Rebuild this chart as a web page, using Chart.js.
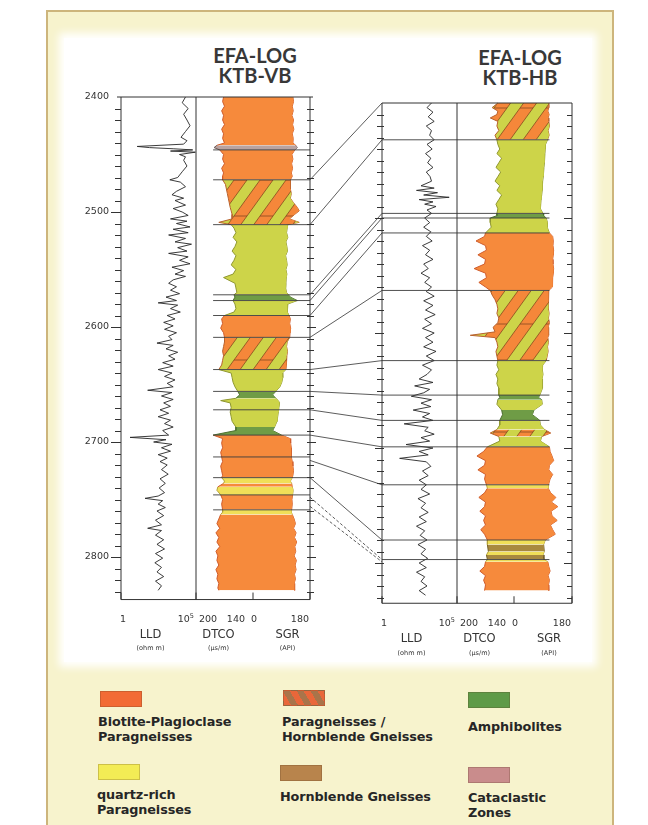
<!DOCTYPE html>
<html>
<head>
<meta charset="utf-8">
<title>EFA-LOG KTB-VB / KTB-HB</title>
<script src="https://cdn.jsdelivr.net/npm/chart.js@4.4.1/dist/chart.umd.min.js"></script>
<style>
  html, body { margin: 0; padding: 0; background: #fff; }
  #page { position: relative; width: 648px; height: 825px; overflow: hidden; background: #fff;
          font-family: "DejaVu Sans", sans-serif; }
  #board { position: absolute; left: 46px; top: 10px; width: 568px; height: 830px;
           background: #f7f3cd; border: 2px solid #cdb57c; box-sizing: border-box; }
  #sheet { position: absolute; left: 64px; top: 38px; width: 528px; height: 624px;
           background: #fff; box-shadow: 0 0 8px 5px #fff; }
  .title { position: absolute; width: 130px; text-align: center; font-family: Lato, sans-serif;
           font-weight: 700; font-size: 20px; line-height: 20px; color: #383838; }
  .sw { position: absolute; width: 42px; height: 16px; box-sizing: border-box;
        border: 1px solid rgba(90,60,30,0.25); }
  .lt { position: absolute; font-weight: 700; font-size: 12.8px; line-height: 15px;
        color: #262626; white-space: nowrap; letter-spacing: -0.1px; }
  #logs { position: absolute; left: 0; top: 0; }
</style>
</head>
<body>
<div id="page">
  <div id="board"></div>
  <div id="sheet"></div>

  <div class="title" style="left:190px; top:45px;">EFA-LOG<br>KTB-VB</div>
  <div class="title" style="left:455px; top:47px;">EFA-LOG<br>KTB-HB</div>

  <div class="sw" style="left:100px; top:691px; background:#f26b35;"></div>
  <div class="lt" style="left:98px; top:714px;">Biotite-Plagioclase<br>Paragneisses</div>

  <div class="sw" style="left:283px; top:690px; background:repeating-linear-gradient(60deg,#e9673a 0 6px,#a9744a 6px 12px);"></div>
  <div class="lt" style="left:282px; top:714px;">Paragneisses /<br>Hornblende Gneisses</div>

  <div class="sw" style="left:468px; top:692px; background:#5f9a48;"></div>
  <div class="lt" style="left:468px; top:719px;">Amphibolites</div>

  <div class="sw" style="left:98px; top:764px; background:#f3ec55;"></div>
  <div class="lt" style="left:97px; top:787px;">quartz-rich<br>Paragneisses</div>

  <div class="sw" style="left:280px; top:765px; background:#b8844c;"></div>
  <div class="lt" style="left:280px; top:789px;">Hornblende Gneisses</div>

  <div class="sw" style="left:468px; top:767px; background:#c98c8c;"></div>
  <div class="lt" style="left:468px; top:790px;">Cataclastic<br>Zones</div>

  <canvas id="logs" width="648" height="825"></canvas>
</div>

<script>
// ---------------------------------------------------------------
// Log data, KTB-VB (pilot hole)
// ---------------------------------------------------------------
const vbLldDepth = [
  2400,2405,2410,2415,2420,2425,2430,2435,2438,2441,
  2443,2444,2445,2446,2447,2448,2450,2452,2455,2460,
  2465,2470,2472,2474,2478,2482,2485,2488,2490,2494,
  2497,2500,2503,2506,2508,2510,2513,2515,2518,2520,
  2523,2526,2528,2531,2534,2536,2539,2542,2545,2548,
  2551,2554,2556,2559,2562,2565,2568,2571,2574,2577,
  2579,2581,2584,2587,2590,2593,2596,2599,2602,2605,
  2608,2611,2614,2616,2619,2622,2625,2628,2631,2634,
  2637,2640,2643,2646,2649,2652,2655,2657,2660,2663,
  2666,2669,2672,2675,2678,2681,2684,2687,2690,2694,
  2696,2698,2700,2702,2705,2708,2711,2714,2717,2720,
  2724,2728,2732,2736,2740,2744,2747,2749,2751,2754,
  2757,2760,2764,2768,2772,2775,2777,2781,2785,2789,
  2793,2797,2801,2805,2809,2813,2817,2821,2825,2829
];
const vbLld = [ // ohm m
  20000,12000,30000,15000,25000,40000,20000,10000,25000,15000,
  12,80,3000,60000,2000,90000,8000,20000,15000,25000,
  12000,6000,1800,9000,20000,5000,2500,15000,4000,20000,
  3000,12000,30000,2000,25000,5000,40000,3000,30000,1500,
  20000,4000,50000,6000,25000,1500,30000,8000,40000,2500,
  15000,4000,20000,3000,1500,5000,2000,8000,1000,5000,
  300,6000,2000,9000,1200,4000,700,3000,800,5000,
  1500,2500,250,3000,1000,6000,1500,4000,600,3000,
  300,2500,800,4000,1200,3000,60,2500,500,3000,
  700,2000,400,1500,300,2000,800,3000,600,1500,
  4,1000,150,2500,500,2000,300,1200,400,1200,
  500,1400,400,900,350,800,300,40,600,300,
  900,250,700,200,500,60,500,200,700,250,
  800,200,600,180,500,250,700,200,500,300
];

const vbLogDepth = [
  2400,2404,2408,2412,2416,2420,2424,2428,2432,2436,
  2440,2442,2444,2446,2450,2454,2458,2462,2466,2469,
  2472,2476,2480,2484,2488,2492,2496,2499,2502,2506,
  2509,2511,2514,2518,2522,2526,2530,2534,2538,2542,
  2546,2550,2554,2557,2562,2566,2570,2572,2574,2577,
  2580,2584,2587,2590,2593,2597,2601,2605,2609,2613,
  2617,2621,2625,2629,2633,2637,2640,2644,2648,2652,
  2656,2659,2662,2664,2666,2670,2674,2678,2682,2687,
  2690,2694,2697,2701,2705,2709,2713,2717,2721,2725,
  2729,2731,2734,2736,2739,2742,2746,2750,2754,2759,
  2761,2763,2767,2771,2775,2779,2783,2787,2791,2795,
  2799,2803,2807,2811,2815,2819,2823,2827,2829
];
const vbDtco = [ // µs/m
  171,172,170,173,171,172,170,173,171,172,
  170,178,181,175,171,172,170,173,171,172,
  172,169,168,167,166,165,164,163,162,162,
  176,163,160,158,161,157,159,162,158,160,
  163,158,161,171,159,158,157,160,159,161,
  159,158,160,170,173,172,174,171,170,170,
  171,172,171,172,173,176,163,162,161,159,
  156,154,158,174,164,163,164,163,162,158,
  158,182,172,173,172,174,173,172,174,173,
  172,173,170,171,177,178,174,172,173,172,
  172,174,176,178,175,179,176,178,175,179,
  177,178,176,179,177,178,176,177,176
];
const vbSgr = [ // API
  126,128,124,127,123,128,125,129,124,127,
  126,135,140,132,123,126,122,125,121,124,
  118,117,119,121,118,128,140,146,132,115,
  146,110,108,106,110,104,107,109,103,106,
  108,104,107,105,104,103,106,112,118,140,
  110,108,109,114,118,116,119,117,116,108,
  106,109,107,105,106,104,93,94,91,85,
  72,62,72,80,84,82,80,78,76,68,
  62,90,117,119,121,120,121,124,126,128,
  126,124,118,122,124,127,125,123,124,122,
  121,124,130,134,128,136,131,138,132,135,
  130,137,133,136,131,134,130,132,131
];

// lithology intervals, KTB-VB
const vbTop  = [2400,2442,2446,2472,2511,2572,2577,2590,2609,2637,2656,2662,2687,2694,2713,2731,2736,2739,2746,2759,2763];
const vbBase = [2442,2446,2472,2511,2572,2577,2590,2609,2637,2656,2662,2687,2694,2713,2731,2736,2739,2746,2759,2763,2829];
const vbRock = ['bio','cata','bio','hatch','hbl','amph','hbl','bio','hatch','hbl','amph','hbl','amph','bio','bio','qtz','bio','qtz','bio','qtz','bio'];
const vbLines = [2446,2472,2511,2572,2577,2590,2609,2637,2656,2672,2694,2713,2731,2746,2759];

// ---------------------------------------------------------------
// Log data, KTB-HB (main hole)
// ---------------------------------------------------------------
const hbLldDepth = [
  2400,2404,2408,2412,2416,2420,2424,2428,2432,2436,
  2440,2444,2448,2452,2456,2460,2464,2468,2472,2474,
  2476,2478,2480,2482,2484,2486,2488,2490,2493,2496,
  2500,2504,2508,2512,2516,2520,2524,2528,2532,2536,
  2540,2544,2548,2552,2556,2560,2564,2568,2572,2576,
  2580,2584,2588,2592,2596,2600,2604,2608,2612,2616,
  2620,2624,2628,2632,2636,2640,2643,2646,2649,2652,
  2655,2658,2661,2664,2667,2670,2673,2676,2679,2682,
  2685,2688,2691,2694,2697,2700,2703,2706,2709,2712,
  2716,2720,2724,2728,2732,2736,2740,2744,2748,2752,
  2756,2760,2764,2768,2772,2776,2780,2784,2788,2792,
  2796,2800,2804,2808,2812,2816,2820,2824,2828
];
const hbLld = [ // ohm m
  2000,1000,2500,1200,3000,900,2000,1500,3000,1000,
  2200,800,1800,1100,2500,900,1600,2000,400,3000,
  200,5000,600,30000,300,2500,700,4000,1000,2000,
  700,1500,600,1800,900,2200,500,1500,800,2500,
  600,1200,400,1500,700,2000,900,3000,600,2500,
  800,3500,700,2000,500,3000,800,2500,600,4000,
  900,3000,500,2000,1000,300,2500,150,1500,600,
  90,2000,400,1800,120,1500,500,2500,30,1200,
  700,3000,400,1500,40,2500,300,1200,15,900,
  1800,500,1200,300,900,400,1500,250,800,400,
  1200,300,900,200,700,350,1000,250,800,400,
  1100,300,900,200,700,400,1000,300,800
];

const hbLogDepth = [
  2400,2404,2407,2410,2413,2416,2420,2424,2428,2432,
  2436,2440,2444,2448,2452,2456,2460,2464,2468,2472,
  2476,2480,2484,2488,2492,2496,2498,2500,2504,2508,
  2513,2516,2520,2524,2528,2532,2536,2540,2544,2548,
  2552,2556,2560,2563,2567,2571,2575,2579,2583,2587,
  2591,2595,2599,2602,2604,2608,2612,2616,2620,2624,
  2628,2632,2636,2640,2644,2648,2654,2656,2658,2662,
  2667,2671,2676,2680,2684,2687,2690,2694,2699,2703,
  2707,2711,2715,2719,2723,2727,2732,2735,2739,2743,
  2747,2751,2755,2759,2763,2767,2771,2775,2780,2784,
  2790,2793,2797,2799,2803,2807,2811,2815,2819,2824
];
const hbDtco = [ // µs/m
  157,163,157,158,165,157,158,156,160,158,
  157,155,158,153,156,159,154,157,160,155,
  158,153,156,159,157,158,158,165,165,164,
  170,171,180,170,169,178,170,171,182,170,
  169,177,170,165,163,160,158,157,158,156,
  157,162,160,186,160,158,157,159,158,157,
  158,156,159,157,158,156,156,155,157,158,
  153,152,155,155,158,165,156,155,168,172,
  179,170,171,178,170,171,169,168,171,177,
  170,171,176,170,172,170,175,171,168,168,
  167,169,168,170,171,176,170,172,170,171
];
const hbSgr = [ // API
  107,108,105,109,106,108,110,106,109,104,
  98,97,96,95,94,93,92,90,89,88,
  87,86,84,83,82,90,92,100,104,103,
  110,120,122,121,123,122,120,121,123,122,
  120,121,118,108,106,107,108,106,109,107,
  110,106,108,107,105,107,104,106,103,100,
  89,88,90,87,89,88,80,76,86,88,
  62,57,80,82,95,114,86,82,110,112,
  118,123,110,108,120,112,107,106,114,130,
  116,136,115,118,134,113,120,128,97,92,
  94,90,93,105,108,112,106,110,107,108
];

// lithology intervals, KTB-HB
const hbTop  = [2400,2432,2496,2500,2513,2563,2624,2654,2658,2667,2676,2684,2690,2699,2732,2735,2780,2784,2790,2793,2797,2799];
const hbBase = [2432,2496,2500,2513,2563,2624,2654,2658,2667,2676,2684,2690,2699,2732,2735,2780,2784,2790,2793,2797,2799,2824];
const hbRock = ['hatch','hbl','amph','hbl','bio','hatch','hbl','amph','hbl','amph','hbl','hatch','hbl','bio','qtz','bio','qtz','hblg','qtz','hblg','qtz','bio'];
const hbLines = [2432,2496,2500,2513,2563,2624,2654,2676,2699,2732,2780,2797];

// correlated horizons between the two holes
const corrVB = [2472,2511,2572,2577,2590,2609,2637,2656,2672,2694,2716,2731,2748,2756];
const corrHB = [2400,2432,2496,2500,2513,2563,2624,2654,2676,2699,2732,2780,2797,2799];
const corrDashed = [false,false,false,false,false,false,false,false,false,false,false,false,true,true];

// axis ranges and labels
const lldRange  = [1, 1e5];
const dtcoRange = [200, 140];
const sgrRange  = [0, 180];
const depthLabels = [2400, 2500, 2600, 2700, 2800];
const vbFrame = [2400, 2837];
const hbFrame = [2400, 2835];
const trackNames = ['LLD', 'DTCO', 'SGR'];
const trackUnits = ['(ohm m)', '(µs/m)', '(API)'];

// ---------------------------------------------------------------
// layout of the panels (pixels)
// ---------------------------------------------------------------
const PLOT = { left: 121, right: 572, top: 97, bottom: 603 };
const COLS = {
  vbLLD: [121, 196], vbDT: [196, 253], vbGR: [253, 310],
  hbLLD: [382, 457], hbDT: [457, 514], hbGR: [514, 572]
};
const PX_PER_M = 1.15;
const VB_TOP_PX = 97, HB_TOP_PX = 103;

function linAxis(range, cols) {
  const [v0, v1] = range, [p0, p1] = cols;
  const s = (v1 - v0) / (p1 - p0);
  const a = v0 + s * (PLOT.left - p0), b = v0 + s * (PLOT.right - p0);
  return { type: 'linear', display: false, bounds: 'data',
           min: Math.min(a, b), max: Math.max(a, b), reverse: a > b };
}
function logAxis(range, cols) {
  const l0 = Math.log10(range[0]), l1 = Math.log10(range[1]);
  const [p0, p1] = cols;
  const s = (l1 - l0) / (p1 - p0);
  return { type: 'logarithmic', display: false, bounds: 'data',
           min: Math.pow(10, l0 + s * (PLOT.left - p0)),
           max: Math.pow(10, l0 + s * (PLOT.right - p0)) };
}
function depthAxis(topPx) {
  return { type: 'linear', display: false, bounds: 'data', reverse: true,
           min: 2400 - (topPx - PLOT.top) / PX_PER_M,
           max: 2400 + (PLOT.bottom - topPx) / PX_PER_M };
}

// ---------------------------------------------------------------
// fills
// ---------------------------------------------------------------
const canvas = document.getElementById('logs');
const ctx = canvas.getContext('2d');

function makeHatch(c) {
  const W = 26, H = 36;
  const cv = document.createElement('canvas');
  cv.width = W; cv.height = H;
  const g = cv.getContext('2d');
  g.fillStyle = '#cdd449';
  g.fillRect(0, 0, W, H);
  for (const off of [-W, 0, W]) {
    g.beginPath();
    g.moveTo(off, H);
    g.lineTo(off + W, 0);
    g.lineTo(off + W * 1.5, 0);
    g.lineTo(off + W * 0.5, H);
    g.closePath();
    g.fillStyle = '#f5873a';
    g.fill();
    g.strokeStyle = 'rgba(125,70,30,0.75)';
    g.lineWidth = 1;
    g.stroke();
  }
  return c.createPattern(cv, 'repeat');
}

const rockStyle = {
  bio:   { fill: '#f68a3c', edge: '#cf5b2a' },
  hatch: { fill: makeHatch(ctx), edge: '#b8602c' },
  hbl:   { fill: '#cdd449', edge: '#8f9730' },
  amph:  { fill: '#6f9c46', edge: '#4b6e2e' },
  qtz:   { fill: '#f0df58', edge: '#b5a235' },
  hblg:  { fill: '#a8893f', edge: '#75602a' },
  cata:  { fill: '#b9a3a0', edge: '#6d5a58' }
};

function lithology(depth, dtco, sgr, tops, bases, rocks, ids) {
  const sets = [];
  tops.forEach((top, k) => {
    const idx = [];
    depth.forEach((d, i) => { if (d >= top && d <= bases[k]) idx.push(i); });
    const st = rockStyle[rocks[k]];
    sets.push({
      label: rocks[k],
      data: idx.map(i => ({ x: dtco[i], y: depth[i] })),
      xAxisID: ids.dt, yAxisID: ids.y,
      fill: '+1', backgroundColor: st.fill,
      borderColor: st.edge, borderWidth: 1
    });
    sets.push({
      label: rocks[k],
      data: idx.map(i => ({ x: sgr[i], y: depth[i] })),
      xAxisID: ids.gr, yAxisID: ids.y,
      fill: false, borderColor: st.edge, borderWidth: 1
    });
  });
  return sets;
}

const datasets = [
  { label: 'LLD KTB-VB', data: vbLldDepth.map((d, i) => ({ x: vbLld[i], y: d })),
    xAxisID: 'xLV', yAxisID: 'yV', borderColor: '#262626', borderWidth: 0.9, fill: false },
  { label: 'LLD KTB-HB', data: hbLldDepth.map((d, i) => ({ x: hbLld[i], y: d })),
    xAxisID: 'xLH', yAxisID: 'yH', borderColor: '#262626', borderWidth: 0.9, fill: false },
  ...lithology(vbLogDepth, vbDtco, vbSgr, vbTop, vbBase, vbRock, { dt: 'xDV', gr: 'xSV', y: 'yV' }),
  ...lithology(hbLogDepth, hbDtco, hbSgr, hbTop, hbBase, hbRock, { dt: 'xDH', gr: 'xSH', y: 'yH' })
];

// ---------------------------------------------------------------
// frames, ticks, horizon lines and captions
// ---------------------------------------------------------------
function line(c, x1, y1, x2, y2) {
  c.beginPath(); c.moveTo(x1, y1); c.lineTo(x2, y2); c.stroke();
}
function text(c, s, x, y, font, align) {
  c.font = font; c.textAlign = align || 'center'; c.fillText(s, x, y);
}
function power(c, x, y, align) {
  // "10" with superscript exponent of the upper LLD bound
  const exp = String(Math.round(Math.log10(lldRange[1])));
  c.font = "9.5px 'DejaVu Sans'";
  const w1 = c.measureText('10').width;
  c.font = "6.5px 'DejaVu Sans'";
  const w2 = c.measureText(exp).width;
  const x0 = align === 'right' ? x - w1 - w2 : x;
  c.textAlign = 'left';
  c.font = "9.5px 'DejaVu Sans'";
  c.fillText('10', x0, y);
  c.font = "6.5px 'DejaVu Sans'";
  c.fillText(exp, x0 + w1, y - 4);
}

const framePlugin = {
  id: 'logFrames',
  afterDatasetsDraw(chart) {
    const c = chart.ctx, s = chart.scales;
    const panels = [
      { lld: s.xLV, dt: s.xDV, gr: s.xSV, y: s.yV, frame: vbFrame, vb: true, rows: [622, 638, 650] },
      { lld: s.xLH, dt: s.xDH, gr: s.xSH, y: s.yH, frame: hbFrame, vb: false, rows: [626, 642, 655] }
    ];
    const P = panels.map(p => ({
      l: p.lld.getPixelForValue(lldRange[0]),
      m: p.lld.getPixelForValue(lldRange[1]),
      c: p.gr.getPixelForValue(sgrRange[0]),
      r: p.gr.getPixelForValue(sgrRange[1]),
      t: p.y.getPixelForValue(p.frame[0]),
      b: p.y.getPixelForValue(p.frame[1])
    }));

    c.save();
    c.lineCap = 'butt';

    // horizon lines inside each panel
    c.strokeStyle = '#3c3c3c';
    c.lineWidth = 0.9;
    vbLines.forEach(d => {
      const y = s.yV.getPixelForValue(d);
      line(c, s.xDV.getPixelForValue(182), y, P[0].r, y);
    });
    hbLines.forEach(d => {
      const y = s.yH.getPixelForValue(d);
      line(c, P[1].l, y, s.xSH.getPixelForValue(110), y);
    });

    // correlation between the holes
    c.strokeStyle = '#4a4a4a';
    corrVB.forEach((d, k) => {
      c.setLineDash(corrDashed[k] ? [3, 2] : []);
      line(c, P[0].r, s.yV.getPixelForValue(d), P[1].l, s.yH.getPixelForValue(corrHB[k]));
    });
    c.setLineDash([]);

    // frames and depth ticks
    c.strokeStyle = '#333';
    c.fillStyle = '#333';
    c.lineWidth = 1;
    panels.forEach((p, k) => {
      const q = P[k];
      line(c, q.l - (p.vb ? 4 : 0), q.t, q.r + (p.vb ? 3 : 0), q.t);
      line(c, q.l, q.t, q.l, q.b);
      line(c, q.m, q.t, q.m, q.b);
      line(c, q.r, q.t, q.r, q.b);
      line(c, q.l, q.b, q.r, q.b);
      [q.l, q.m, q.c, q.r].forEach(x => line(c, x, q.b, x, q.b - 7));

      for (let d = p.frame[0] + 10; d < p.frame[1]; d += 10) {
        const y = Math.round(p.y.getPixelForValue(d)) + 0.5;
        const major = d % 100 === 0;
        if (p.vb) {
          line(c, q.l - (major ? 10 : 6), y, q.l, y);
          line(c, q.r - 3, y, q.r + (major ? 6 : 4), y);
        } else {
          line(c, q.l - (major ? 7 : 5), y, q.l + 2, y);
          line(c, q.r - (major ? 8 : 5), y, q.r, y);
        }
      }

      // scale captions under the tracks
      const [r1, r2, r3] = p.rows;
      c.fillStyle = '#333';
      text(c, String(lldRange[0]), q.l + 2, r1, "9.5px 'DejaVu Sans'", 'center');
      power(c, q.m - 2, r1, 'right');
      text(c, String(dtcoRange[0]), q.m + 3, r1, "9.5px 'DejaVu Sans'", 'left');
      text(c, String(dtcoRange[1]), q.c - 8, r1, "9.5px 'DejaVu Sans'", 'right');
      text(c, String(sgrRange[0]), q.c - 2, r1, "9.5px 'DejaVu Sans'", 'left');
      text(c, String(sgrRange[1]), q.r - 1, r1, "9.5px 'DejaVu Sans'", 'right');
      const centres = [(q.l + q.m) / 2 - 8, (q.m + q.c) / 2 - 6, (q.c + q.r) / 2 + 6];
      trackNames.forEach((n, i) => text(c, n, centres[i], r2, "11.5px 'DejaVu Sans'", 'center'));
      trackUnits.forEach((u, i) => text(c, u, centres[i], r3, "6.5px 'DejaVu Sans'", 'center'));
    });

    // depth labels of the pilot hole
    c.fillStyle = '#333';
    c.textBaseline = 'middle';
    depthLabels.forEach(d => {
      text(c, String(d), P[0].l - 12, s.yV.getPixelForValue(d), "9.5px 'DejaVu Sans'", 'right');
    });
    c.restore();
  }
};

new Chart(ctx, {
  type: 'line',
  data: { datasets },
  options: {
    responsive: false,
    animation: false,
    devicePixelRatio: 1,
    indexAxis: 'y',
    layout: { padding: { left: PLOT.left, right: 648 - PLOT.right, top: PLOT.top, bottom: 825 - PLOT.bottom } },
    elements: { point: { radius: 0, hoverRadius: 0 }, line: { tension: 0 } },
    plugins: { legend: { display: false }, tooltip: { enabled: false }, title: { display: false } },
    events: [],
    scales: {
      yV: depthAxis(VB_TOP_PX),
      yH: depthAxis(HB_TOP_PX),
      xLV: logAxis(lldRange, COLS.vbLLD),
      xDV: linAxis(dtcoRange, COLS.vbDT),
      xSV: linAxis(sgrRange, COLS.vbGR),
      xLH: logAxis(lldRange, COLS.hbLLD),
      xDH: linAxis(dtcoRange, COLS.hbDT),
      xSH: linAxis(sgrRange, COLS.hbGR)
    }
  },
  plugins: [framePlugin]
});
</script>
</body>
</html>
